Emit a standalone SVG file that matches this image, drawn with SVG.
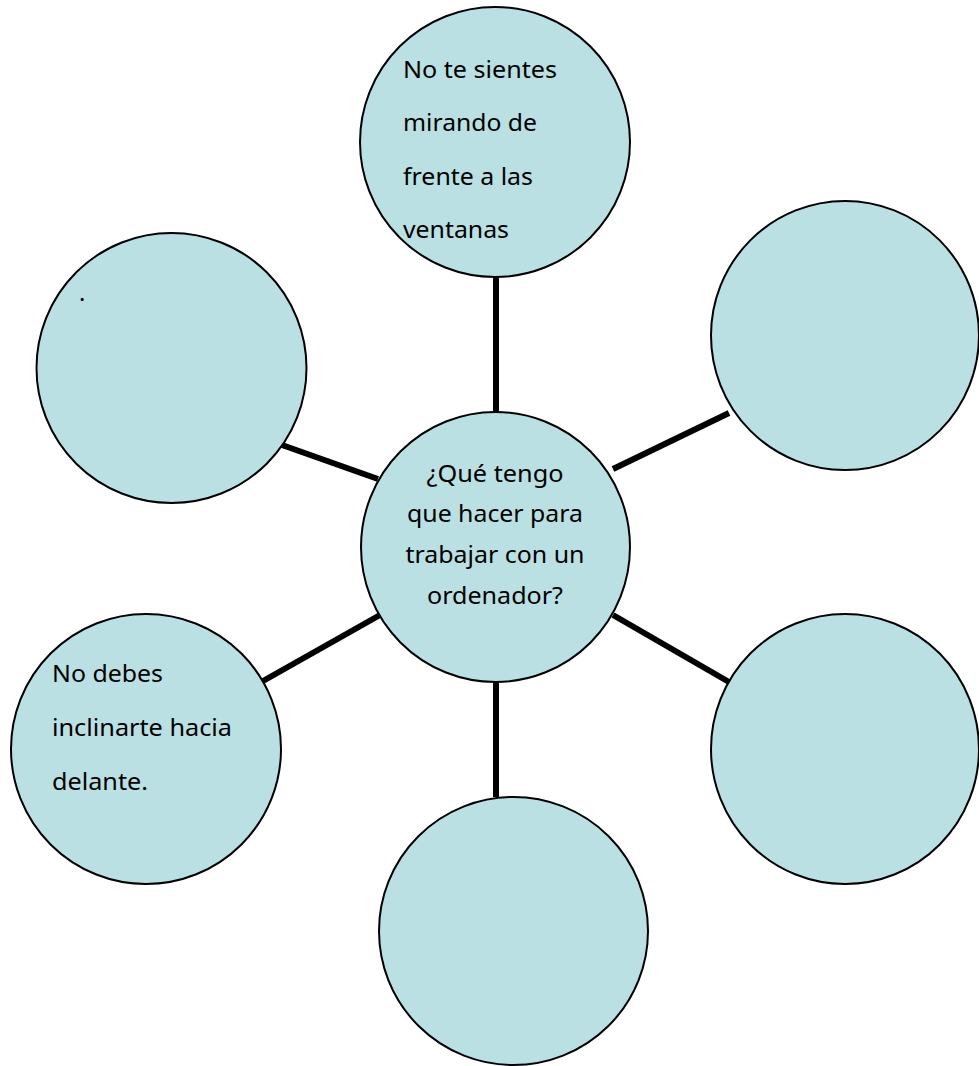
<svg xmlns="http://www.w3.org/2000/svg" width="979" height="1066" viewBox="0 0 979 1066">
<style>
.node{fill:#bae0e3;stroke:#000;stroke-width:2}
.conn{stroke:#000;stroke-width:6;fill:none}
text{font-family:"Noto Sans","Open Sans",sans-serif;font-size:23.5px;fill:#000}
.c{text-anchor:middle}
</style>
<rect width="979" height="1066" fill="#fff"/>
<g id="connectors">
<line class="conn" x1="496" y1="278" x2="496" y2="412"/>
<line class="conn" x1="496" y1="682" x2="496" y2="797"/>
<line class="conn" x1="282" y1="445" x2="378" y2="479"/>
<line class="conn" x1="729" y1="413" x2="613" y2="469"/>
<line class="conn" x1="263" y1="681" x2="380" y2="615"/>
<line class="conn" x1="613" y1="615" x2="729" y2="682"/>
</g>
<g id="node-top">
<ellipse class="node" cx="495" cy="142" rx="135" ry="135"/>
<text x="403" y="78" textLength="154" lengthAdjust="spacingAndGlyphs">No te sientes</text>
<text x="403" y="131" textLength="134" lengthAdjust="spacingAndGlyphs">mirando de</text>
<text x="403" y="185" textLength="130" lengthAdjust="spacingAndGlyphs">frente a las</text>
<text x="403" y="238" textLength="106" lengthAdjust="spacingAndGlyphs">ventanas</text>
</g>
<g id="node-left-top">
<ellipse class="node" cx="171.5" cy="368" rx="135" ry="135"/>
<text x="79" y="301">.</text>
</g>
<g id="node-right-top">
<ellipse class="node" cx="845" cy="335.5" rx="134" ry="134.5"/>
</g>
<g id="node-center">
<ellipse class="node" cx="495.5" cy="547" rx="134.5" ry="135"/>
<text class="c" x="495" y="482" textLength="137" lengthAdjust="spacingAndGlyphs">¿Qué tengo</text>
<text class="c" x="495" y="522" textLength="176" lengthAdjust="spacingAndGlyphs">que hacer para</text>
<text class="c" x="495" y="563" textLength="179" lengthAdjust="spacingAndGlyphs">trabajar con un</text>
<text class="c" x="495" y="604" textLength="136" lengthAdjust="spacingAndGlyphs">ordenador?</text>
</g>
<g id="node-left-bottom">
<ellipse class="node" cx="146" cy="749" rx="135" ry="135"/>
<text x="52" y="682" textLength="111" lengthAdjust="spacingAndGlyphs">No debes</text>
<text x="52" y="736" textLength="180" lengthAdjust="spacingAndGlyphs">inclinarte hacia</text>
<text x="52" y="790" textLength="96" lengthAdjust="spacingAndGlyphs">delante.</text>
</g>
<g id="node-right-bottom">
<ellipse class="node" cx="845" cy="749" rx="134" ry="135"/>
</g>
<g id="node-bottom">
<ellipse class="node" cx="513.5" cy="931" rx="134.5" ry="134"/>
</g>
</svg>
